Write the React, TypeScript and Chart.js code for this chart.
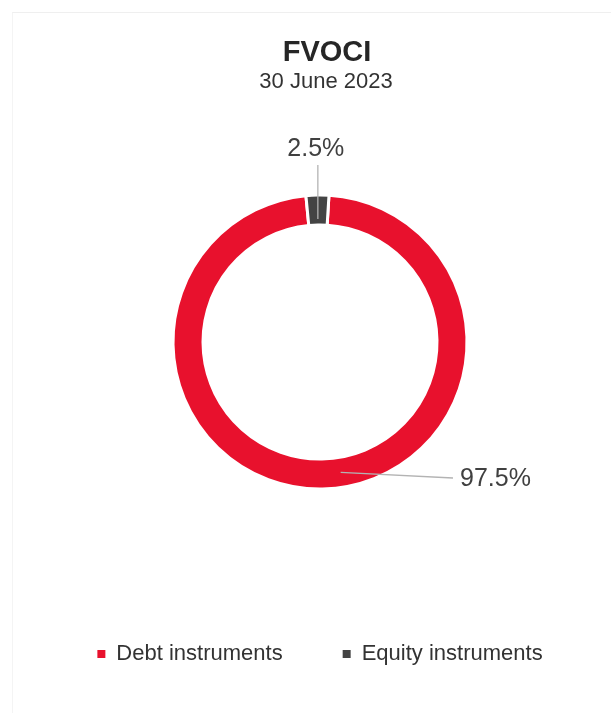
import React, { useEffect, useRef } from 'react';
import { Chart, registerables } from 'chart.js';

Chart.register(...registerables);

// ---- data ----
const categories = ['Debt instruments', 'Equity instruments'];
const shares = [97.5, 2.5];
const valueLabels = ['97.5%', '2.5%'];
const chartTitle = 'FVOCI';
const chartSubtitle = '30 June 2023';
const sliceColors = ['#e8112d', '#444444'];

const FONT = "'Liberation Sans', Arial, Helvetica, sans-serif";

const headerPlugin = {
  id: 'headerText',
  afterDraw(chart: any) {
    const ctx = chart.ctx;
    ctx.save();
    ctx.textAlign = 'center';
    ctx.textBaseline = 'alphabetic';
    ctx.fillStyle = '#262626';
    ctx.font = `bold 29px ${FONT}`;
    ctx.fillText(chartTitle, 327, 61);
    ctx.fillStyle = '#333333';
    ctx.font = `22px ${FONT}`;
    ctx.fillText(chartSubtitle, 326, 88);
    ctx.restore();
  },
};

const sliceLabelPlugin = {
  id: 'sliceLabels',
  afterDatasetsDraw(chart: any) {
    const meta = chart.getDatasetMeta(0);
    const ctx = chart.ctx;
    ctx.save();
    ctx.font = `25px ${FONT}`;
    ctx.fillStyle = '#404040';
    ctx.strokeStyle = '#b3b3b3';
    ctx.lineWidth = 1.3;
    meta.data.forEach((arc: any, i: number) => {
      const p = arc.getProps(['x', 'y', 'startAngle', 'endAngle', 'innerRadius', 'outerRadius'], true);
      const mid = (p.startAngle + p.endAngle) / 2;
      const span = p.endAngle - p.startAngle;
      if (span > Math.PI) {
        // large slice: label to the lower right
        const a = mid - (8 * Math.PI) / 180;
        const r = (p.innerRadius + p.outerRadius) / 2;
        const ax = p.x + r * Math.cos(a);
        const ay = p.y + r * Math.sin(a);
        const tx = p.x + 140;
        const ty = p.y + 137;
        ctx.beginPath();
        ctx.moveTo(ax, ay);
        ctx.lineTo(tx - 7, ty - 1);
        ctx.stroke();
        ctx.textAlign = 'left';
        ctx.textBaseline = 'middle';
        ctx.fillText(valueLabels[i], tx, ty);
      } else {
        // small slice: label above
        const r = p.innerRadius + 6;
        const ax = p.x + r * Math.cos(mid);
        const ay = p.y + r * Math.sin(mid);
        ctx.beginPath();
        ctx.moveTo(ax, p.y - 177);
        ctx.lineTo(ax, ay);
        ctx.stroke();
        ctx.textAlign = 'center';
        ctx.textBaseline = 'middle';
        ctx.fillText(valueLabels[i], ax - 2, p.y - 193);
      }
    });
    ctx.restore();
  },
};

export default function App() {
  const canvasRef = useRef<HTMLCanvasElement | null>(null);

  useEffect(() => {
    document.body.style.margin = '0';
    const canvas = canvasRef.current;
    if (!canvas) return;
    const chart = new Chart(canvas, {
      type: 'doughnut',
      data: {
        labels: categories,
        datasets: [
          {
            data: shares,
            backgroundColor: sliceColors,
            borderColor: '#ffffff',
            borderWidth: 3,
            hoverOffset: 0,
          },
        ],
      },
      options: {
        responsive: false,
        animation: false,
        radius: 147,
        cutout: '79.6%',
        rotation: 3.5,
        layout: { padding: { top: 101, bottom: 40, left: 24, right: 0 } },
        plugins: {
          title: { display: false },
          tooltip: { enabled: false },
          legend: {
            display: true,
            position: 'bottom',
            align: 'center',
            labels: {
              boxWidth: 8,
              boxHeight: 8,
              padding: 60,
              color: '#333333',
              font: { size: 22, family: FONT },
              generateLabels: (c: any) => {
                const base = (Chart as any).overrides.doughnut.plugins.legend.labels.generateLabels(c);
                return base.map((it: any) => ({ ...it, lineWidth: 0, strokeStyle: it.fillStyle }));
              },
            },
          },
        },
      } as any,
      plugins: [headerPlugin, sliceLabelPlugin],
    });
    return () => chart.destroy();
  }, []);

  return (
    <div style={{ position: 'relative', width: 616, height: 715, background: '#ffffff' }}>
      <div
        style={{
          position: 'absolute',
          left: 12,
          top: 12,
          width: 598,
          height: 700,
          borderTop: '1px solid #efefef',
          borderLeft: '1px solid #f4f4f4',
          pointerEvents: 'none',
        }}
      />
      <canvas ref={canvasRef} width={616} height={715} style={{ display: 'block', position: 'relative' }} />
    </div>
  );
}
